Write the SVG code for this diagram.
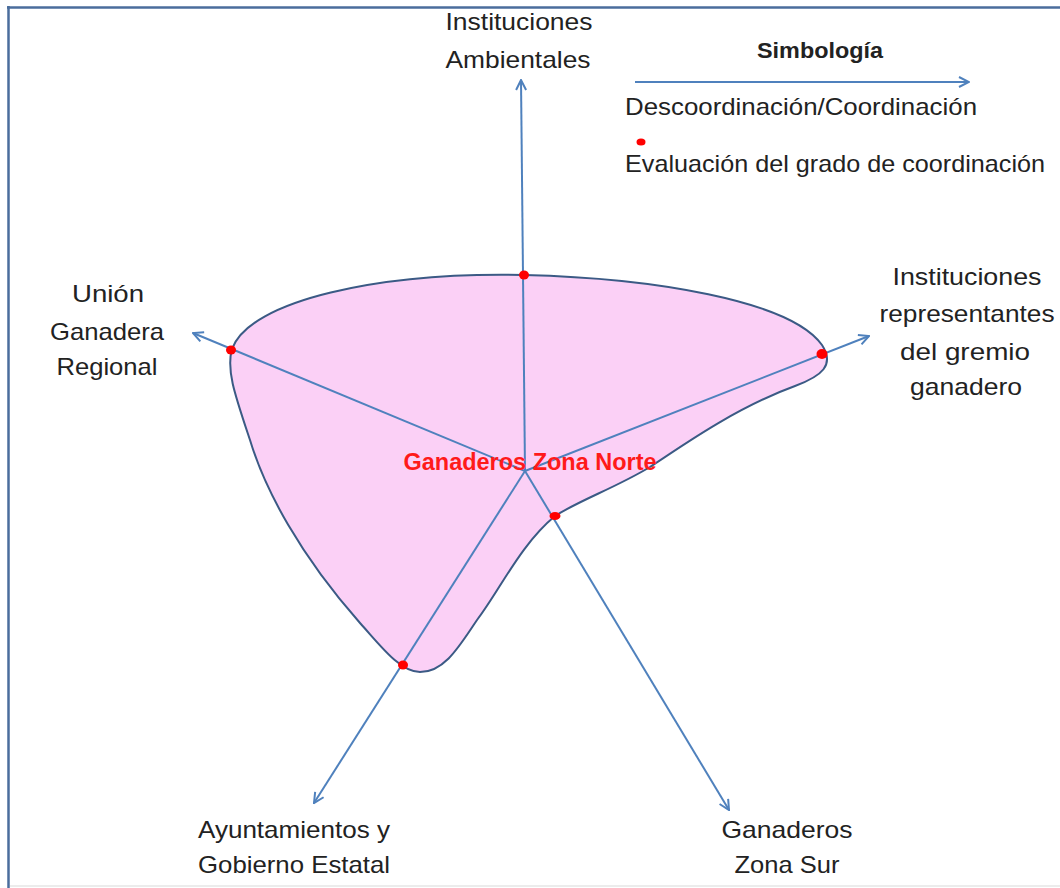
<svg xmlns="http://www.w3.org/2000/svg" width="1060" height="888" viewBox="0 0 1060 888">
<style>
.lbl{font-family:"Liberation Sans",Arial,sans-serif;font-size:24px;fill:#222;text-anchor:middle}
.leg{font-family:"Liberation Sans",Arial,sans-serif;font-size:24px;fill:#222}
.axis{stroke:#4f81bd;stroke-width:2;fill:none;marker-end:url(#arr)}
.dot{fill:#ff0000}
</style>
<defs>
<marker id="arr" viewBox="0 0 12 12" refX="11" refY="6" markerWidth="12" markerHeight="12" markerUnits="userSpaceOnUse" orient="auto">
<path d="M1,1 L11,6 L1,11" fill="none" stroke="#4f81bd" stroke-width="2"/>
</marker>
</defs>
<rect width="1060" height="888" fill="#ffffff"/>
<g id="frame">
<line x1="7" y1="7.5" x2="1060" y2="7.5" stroke="#4a6d9c" stroke-width="2.5"/>
<line x1="8.5" y1="6" x2="8.5" y2="888" stroke="#4a6d9c" stroke-width="2.5"/>
<line x1="10" y1="886" x2="1060" y2="886" stroke="#e6e6e6" stroke-width="1.5"/>
</g>
<g id="area">
<path d="M232,349 C250,300 380,272 524,275 C650,278 790,300 822,345 C835,365 822,376 795,386 C740,406 690,440 650,467 C615,488 580,500 555,516 C520,545 500,590 477,620 C460,645 445,672 420,672 C400,672 380,645 360,623 C300,555 265,490 250,440 C235,395 226,370 232,349 Z" fill="#fbd0f6" stroke="#3b5a85" stroke-width="2"/>
</g>
<g id="connectors">
<line class="axis" x1="525" y1="471" x2="521" y2="80"/>
<line class="axis" x1="525" y1="471" x2="193" y2="333"/>
<line class="axis" x1="525" y1="471" x2="869" y2="336"/>
<line class="axis" x1="525" y1="471" x2="314" y2="803"/>
<line class="axis" x1="525" y1="471" x2="729" y2="810"/>
</g>
<g id="points">
<ellipse class="dot" cx="524" cy="275" rx="5" ry="4.5"/>
<ellipse class="dot" cx="231" cy="350" rx="5" ry="4.5"/>
<ellipse class="dot" cx="822" cy="354" rx="5.5" ry="5"/>
<ellipse class="dot" cx="403" cy="665" rx="5" ry="4.5"/>
<ellipse class="dot" cx="555" cy="516" rx="5.5" ry="4"/>
</g>
<g id="center">
<text x="530" y="470" textLength="253" lengthAdjust="spacingAndGlyphs" style="font-family:'Liberation Sans',Arial,sans-serif;font-size:23px;font-weight:bold;fill:#ff1a1a;text-anchor:middle">Ganaderos Zona Norte</text>
</g>
<g id="node-ambientales">
<text class="lbl" x="519" y="30" textLength="147" lengthAdjust="spacingAndGlyphs">Instituciones</text>
<text class="lbl" x="518" y="68" textLength="145" lengthAdjust="spacingAndGlyphs">Ambientales</text>
</g>
<g id="node-union">
<text class="lbl" x="108" y="302" textLength="72" lengthAdjust="spacingAndGlyphs">Unión</text>
<text class="lbl" x="107" y="340" textLength="114" lengthAdjust="spacingAndGlyphs">Ganadera</text>
<text class="lbl" x="107" y="375" textLength="101" lengthAdjust="spacingAndGlyphs">Regional</text>
</g>
<g id="node-gremio">
<text class="lbl" x="967" y="285" textLength="149" lengthAdjust="spacingAndGlyphs">Instituciones</text>
<text class="lbl" x="967" y="322" textLength="175" lengthAdjust="spacingAndGlyphs">representantes</text>
<text class="lbl" x="965" y="360" textLength="130" lengthAdjust="spacingAndGlyphs">del gremio</text>
<text class="lbl" x="966" y="395" textLength="112" lengthAdjust="spacingAndGlyphs">ganadero</text>
</g>
<g id="node-ayuntamientos">
<text class="lbl" x="294" y="838" textLength="192" lengthAdjust="spacingAndGlyphs">Ayuntamientos y</text>
<text class="lbl" x="294" y="873" textLength="192" lengthAdjust="spacingAndGlyphs">Gobierno Estatal</text>
</g>
<g id="node-sur">
<text class="lbl" x="787" y="838" textLength="131" lengthAdjust="spacingAndGlyphs">Ganaderos</text>
<text class="lbl" x="787" y="873" textLength="105" lengthAdjust="spacingAndGlyphs">Zona Sur</text>
</g>
<g id="legend">
<text x="820" y="58" textLength="126" lengthAdjust="spacingAndGlyphs" style="font-family:'Liberation Sans',Arial,sans-serif;font-size:22px;font-weight:bold;fill:#222;text-anchor:middle">Simbología</text>
<line class="axis" x1="635" y1="82" x2="969" y2="82"/>
<text class="leg" x="625" y="115" textLength="352" lengthAdjust="spacingAndGlyphs">Descoordinación/Coordinación</text>
<ellipse class="dot" cx="641" cy="142" rx="4.5" ry="3.5"/>
<text class="leg" x="625" y="172" textLength="420" lengthAdjust="spacingAndGlyphs">Evaluación del grado de coordinación</text>
</g>
</svg>
